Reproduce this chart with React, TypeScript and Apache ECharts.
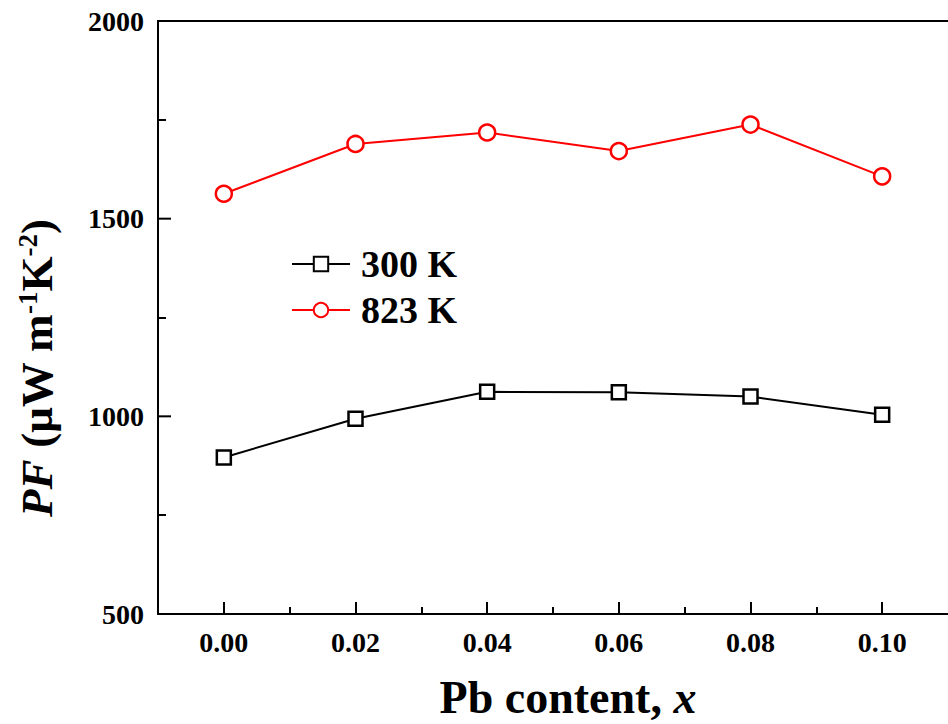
import React, { useEffect, useRef } from "react";
import * as echarts from "echarts";

const xValues = [0.0, 0.02, 0.04, 0.06, 0.08, 0.1];
const pf300K = [896, 994, 1062, 1061, 1050, 1004];
const pf823K = [1563, 1689, 1718, 1671, 1738, 1607];
const xTickLabels = [0.0, 0.02, 0.04, 0.06, 0.08, 0.1];
const xMinorTicks = [0.01, 0.03, 0.05, 0.07, 0.09];
const yTickLabels = [500, 1000, 1500, 2000];
const yInnerMajorTicks = [1000, 1500];
const yMinorTicks = [750, 1250, 1750];
const seriesNames = ["300 K", "823 K"];

const X_MIN = -0.01;
const X_MAX = 0.11;
const FONT = "'Liberation Serif', 'Times New Roman', serif";

export default function App() {
  const ref = useRef<HTMLDivElement>(null);
  useEffect(() => {
    if (!ref.current) return;
    const chart = echarts.init(ref.current, null, { renderer: "svg" });
    const tickAxisX = (pos: string, values: number[], len: number, showLine: boolean) => ({
      type: "value",
      min: X_MIN,
      max: X_MAX,
      position: pos,
      offset: 0,
      axisLine: { show: showLine, onZero: false, lineStyle: { color: "#000", width: 2 } },
      axisTick: { show: values.length > 0, inside: true, length: len, lineStyle: { color: "#000", width: 2 }, customValues: values },
      axisLabel: { show: false, customValues: values },
      splitLine: { show: false },
    });
    const tickAxisY = (values: number[], len: number) => ({
      type: "value",
      min: 500,
      max: 2000,
      position: "left",
      offset: 0,
      axisLine: { show: false, onZero: false },
      axisTick: { show: true, inside: true, length: len, lineStyle: { color: "#000", width: 2 }, customValues: values },
      axisLabel: { show: false, customValues: values },
      splitLine: { show: false },
    });
    chart.setOption({
      animation: false,
      backgroundColor: "#ffffff",
      grid: { left: 158, top: 21, width: 792, height: 593, containLabel: false },
      legend: {
        orient: "vertical",
        left: 286,
        top: 240,
        itemWidth: 58,
        itemHeight: 18,
        itemGap: 8,
        data: seriesNames,
        textStyle: { fontFamily: FONT, fontWeight: "bold", fontSize: 38, color: "#000", padding: [0, 0, 0, 6] },
      },
      xAxis: [
        {
          type: "value",
          min: X_MIN,
          max: X_MAX,
          position: "bottom",
          axisLine: { show: true, onZero: false, lineStyle: { color: "#000", width: 2 } },
          axisTick: { show: false },
          axisLabel: {
            show: true,
            customValues: xTickLabels,
            formatter: (v: number) => v.toFixed(2),
            fontFamily: FONT,
            fontWeight: "bold",
            fontSize: 28,
            color: "#000",
            margin: 14,
          },
          splitLine: { show: false },
        },
        tickAxisX("bottom", xTickLabels, 12, false),
        tickAxisX("bottom", xMinorTicks, 7, false),
        tickAxisX("top", [], 0, true),
      ],
      yAxis: [
        {
          type: "value",
          min: 500,
          max: 2000,
          position: "left",
          axisLine: { show: true, onZero: false, lineStyle: { color: "#000", width: 2 } },
          axisTick: { show: false },
          axisLabel: {
            customValues: yTickLabels,
            formatter: (v: number) => String(v),
            fontFamily: FONT,
            fontWeight: "bold",
            fontSize: 28,
            color: "#000",
            margin: 14,
          },
          splitLine: { show: false },
        },
        tickAxisY(yMinorTicks, 8),
      ],
      series: [
        {
          type: "custom",
          name: "yMajorTicks",
          xAxisIndex: 0,
          yAxisIndex: 0,
          silent: true,
          clip: false,
          data: yInnerMajorTicks.map((v) => [X_MIN, v]),
          renderItem: (params: any, api: any) => {
            const p = api.coord([api.value(0), api.value(1)]);
            return {
              type: "line",
              shape: { x1: p[0], y1: p[1], x2: p[0] + 13, y2: p[1] },
              style: { stroke: "#000", lineWidth: 2 },
            };
          },
        },
        {
          name: seriesNames[0],
          type: "line",
          xAxisIndex: 0,
          yAxisIndex: 0,
          data: xValues.map((x, i) => [x, pf300K[i]]),
          symbol: "rect",
          symbolSize: 14,
          lineStyle: { color: "#000", width: 2 },
          itemStyle: { color: "#fff", borderColor: "#000", borderWidth: 2.5 },
        },
        {
          name: seriesNames[1],
          type: "line",
          xAxisIndex: 0,
          yAxisIndex: 0,
          data: xValues.map((x, i) => [x, pf823K[i]]),
          symbol: "circle",
          symbolSize: 16,
          lineStyle: { color: "#ff0000", width: 2 },
          itemStyle: { color: "#fff", borderColor: "#ff0000", borderWidth: 2.5 },
        },
      ],
      graphic: [
        {
          type: "text",
          x: 568,
          y: 697,
          style: {
            text: "Pb content, {i|x}",
            fontFamily: FONT,
            fontWeight: "bold",
            fontSize: 46,
            fill: "#000",
            textAlign: "center",
            textVerticalAlign: "middle",
            rich: {
              i: { fontFamily: FONT, fontWeight: "bold", fontStyle: "italic", fontSize: 46, fill: "#000" },
            },
          },
        },
        {
          type: "text",
          x: 37,
          y: 368,
          rotation: Math.PI / 2,
          style: {
            text: "{i|PF} (μW m{sup|-1}K{sup|-2})",
            fontFamily: FONT,
            fontWeight: "bold",
            fontSize: 45,
            fill: "#000",
            textAlign: "center",
            textVerticalAlign: "middle",
            rich: {
              i: { fontFamily: FONT, fontWeight: "bold", fontStyle: "italic", fontSize: 45, fill: "#000" },
              sup: { fontFamily: FONT, fontWeight: "bold", fontSize: 27, fill: "#000", verticalAlign: "top", padding: [0, 0, 18, 0] },
            },
          },
        },
      ],
    });
    return () => chart.dispose();
  }, []);
  return <div ref={ref} style={{ width: 948, height: 724, position: "absolute", left: 0, top: 0 }} />;
}
